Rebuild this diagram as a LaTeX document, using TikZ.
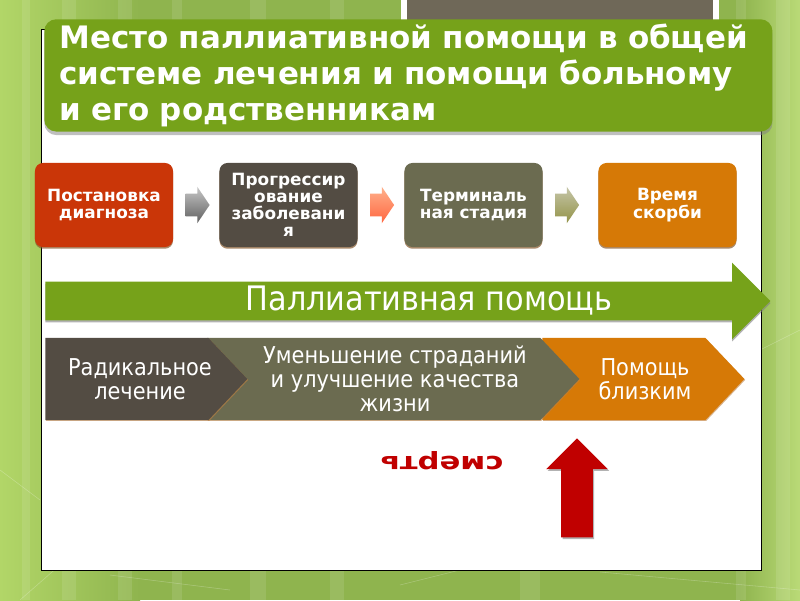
\documentclass[tikz,border=0pt]{standalone}
\usepackage{fontspec}
\setmainfont{DejaVu Sans}
\newfontfamily\condfont{DejaVu Sans Condensed}
\usetikzlibrary{positioning,shapes.arrows,shapes.symbols,shadows}

\definecolor{bg-green}{RGB}{143,180,78}
\definecolor{bg-light}{RGB}{178,214,104}
\definecolor{title-green}{RGB}{118,162,26}
\definecolor{stage-red}{RGB}{202,54,8}
\definecolor{stage-brown}{RGB}{83,76,67}
\definecolor{stage-olive}{RGB}{107,107,80}
\definecolor{stage-orange}{RGB}{214,121,6}
\definecolor{death-red}{RGB}{192,0,0}
\definecolor{top-gray}{RGB}{111,104,88}

\begin{document}
\begin{tikzpicture}[x=0.025cm,y=-0.025cm]
        \tikzstyle{stage-box}=[rounded corners=0.2cm, minimum width=3.45cm, minimum height=2.1cm, inner sep=0pt, align=center, text=white, font=\bfseries\fontsize{12}{12}\selectfont, drop shadow={shadow xshift=0pt, shadow yshift=-1.2pt, opacity=0.7, fill=brown!70!black}]
        \tikzstyle{step-arrow}=[single arrow, inner xsep=0pt, inner ysep=0.275cm, minimum height=0.6cm, minimum width=0.9cm, single arrow head extend=0.175cm, single arrow tip angle=112]
        \tikzstyle{chevron}=[signal, signal to=east, signal pointer angle=93, anchor=west, minimum width=5.05cm, minimum height=2.05cm, inner sep=0pt, drop shadow={shadow xshift=0.6pt, shadow yshift=-0.6pt, opacity=0.6, fill=brown}]
        \tikzstyle{chevron-text}=[align=center, text=white, font=\condfont\fontsize{16.5}{17}\selectfont]

        \useasboundingbox (0,0) rectangle (800,600);
        % background of the slide
        \fill[bg-green] (0,0) rectangle (800,600);
        \shade[left color=bg-light, right color=bg-green] (0,0) rectangle (140,600);
        \shade[left color=bg-green, right color=bg-light!90!white] (740,0) rectangle (800,600);
        \foreach \xa/\xb in {22/30, 62/76, 118/132, 172/182, 250/266, 330/344, 520/540, 736/746, 776/790}
            \fill[white, opacity=0.1] (\xa,0) rectangle (\xb,600);
        \draw[white, opacity=0.25] (0,470) -- (40,500) (20,600) -- (60,565) (110,575) -- (230,590) (400,585) -- (460,570) (760,350) -- (800,330) (600,572) -- (800,590);

        \fill[white] (401,0) rectangle (719,20);
        \fill[top-gray] (407,0) rectangle (713,20);
        \draw[fill=white] (41,29) rectangle (761,570);

        \node[anchor=north west, fill=title-green, rounded corners=0.3cm, minimum width=18.2cm, minimum height=2.72cm, text width=17.45cm, inner xsep=0.375cm, inner ysep=0.12cm, align=left, text=white, font=\bfseries\fontsize{22}{25.5}\selectfont, drop shadow={shadow xshift=0pt, shadow yshift=-2.5pt, opacity=0.5}] (title) at (44,19)
        {Место паллиативной помощи в общей\\системе лечения и помощи больному\\и его родственникам};

        \node[stage-box, fill=stage-red] (diagnosis) at (104,205) {Постановка\\диагноза};
        \node[stage-box, fill=stage-brown] (progression) at (288.5,205) {Прогрессир\\ование\\заболевани\\я};
        \node[stage-box, fill=stage-olive] (terminal) at (473.5,205) {Терминаль\\ная стадия};
        \node[stage-box, fill=stage-orange] (grief) at (667.5,205) {Время\\скорби};

        \node[step-arrow, top color=gray!45, bottom color=gray!75!black, right=0.3cm of diagnosis] (step-one) {};
        \node[step-arrow, top color=red!35!orange!45, bottom color=red!60!orange!75, right=0.3cm of progression] (step-two) {};
        \node[step-arrow, top color=olive!25!gray!45, bottom color=olive!35!gray!85, right=0.3cm of terminal] (step-three) {};

        \node[single arrow, anchor=tail, fill=title-green, minimum height=18.125cm, minimum width=1.9cm, single arrow head extend=0.475cm, single arrow tip angle=90, inner xsep=0pt, inner ysep=0.475cm, drop shadow={shadow xshift=0pt, shadow yshift=-1.5pt, opacity=0.6}] (palliative) at (45,301) {};
        \node[text=white, font=\condfont\fontsize{24}{24}\selectfont] (palliative-text) at (429,301) {Паллиативная помощь};

        \node[chevron, fill=stage-orange] (relatives) at (542,379) {};
        \node[chevron, fill=stage-olive, minimum width=9.3cm] (comfort) at (207,379) {};
        \node[chevron, fill=stage-brown] (radical) at (45,379) {};
        \node[chevron-text] (radical-text) at (140,379) {Радикальное\\лечение};
        \node[chevron-text] (comfort-text) at (395,379) {Уменьшение страданий\\и улучшение качества\\жизни};
        \node[chevron-text] (relatives-text) at (645,379) {Помощь\\близким};

        \node[rotate=180, text=death-red, font=\bfseries\fontsize{17}{17}\selectfont] (death) at (442,461) {\scalebox{1.28}[1]{смерть}};
        \node[single arrow, rotate=90, anchor=tip, fill=death-red, minimum height=2.475cm, minimum width=1.525cm, single arrow head extend=0.375cm, single arrow tip angle=90, inner xsep=0pt, inner ysep=0.3875cm, drop shadow={shadow xshift=1pt, shadow yshift=-1.2pt, opacity=0.6}] (death-arrow) at (577,438) {};
    \end{tikzpicture}
\end{document}
